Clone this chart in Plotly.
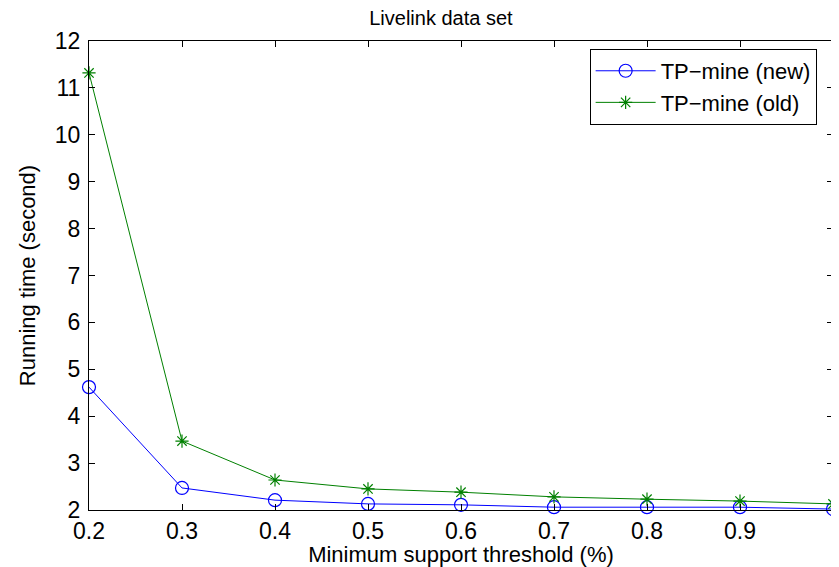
import plotly.graph_objects as go

x_vals = [0.2, 0.3, 0.4, 0.5, 0.6, 0.7, 0.8, 0.9, 1.0]
new_vals = [4.62, 2.47, 2.21, 2.13, 2.11, 2.06, 2.06, 2.06, 2.02]
old_vals = [11.32, 3.47, 2.64, 2.45, 2.38, 2.28, 2.23, 2.19, 2.13]
x_ticks = [0.2, 0.3, 0.4, 0.5, 0.6, 0.7, 0.8, 0.9, 1.0]
x_ticklabels = ["0.2", "0.3", "0.4", "0.5", "0.6", "0.7", "0.8", "0.9", "1"]
y_ticks = list(range(2, 13))

font = "Liberation Sans, Arial, sans-serif"

fig = go.Figure()
fig.add_trace(go.Scatter(
    x=x_vals, y=new_vals, mode="lines+markers", name="TP\u2212mine (new)",
    line=dict(color="#0000ff", width=1),
    marker=dict(symbol="circle-open", size=13, color="#0000ff", line=dict(width=1.2)),
    cliponaxis=False,
))
fig.add_trace(go.Scatter(
    x=x_vals, y=old_vals, mode="lines+markers", name="TP\u2212mine (old)",
    line=dict(color="#008000", width=1),
    marker=dict(symbol="asterisk-open", size=11, color="#008000", line=dict(width=1.2, color="#008000")),
    cliponaxis=False,
))

axis_common = dict(
    showgrid=False, zeroline=False, showline=True, linecolor="black", linewidth=1.2,
    mirror="ticks", ticks="inside", ticklen=6, tickcolor="black",
    tickfont=dict(family=font, size=23, color="black"),
)

fig.update_layout(
    width=831, height=559,
    margin=dict(l=81, r=6, t=33, b=57),
    paper_bgcolor="white", plot_bgcolor="white",
    title=dict(text="Livelink data set", x=0.521, xref="container", xanchor="center",
               y=1, yref="container", yanchor="top", pad=dict(t=3),
               font=dict(family=font, size=20, color="black")),
    xaxis=dict(range=[0.2, 1.0], tickvals=x_ticks, ticktext=x_ticklabels,
               title=dict(text="Minimum support threshold (%)", font=dict(family=font, size=22, color="black"), standoff=0),
               **axis_common),
    yaxis=dict(range=[2, 12], tickvals=y_ticks, ticklabelstandoff=3,
               title=dict(text="Running time (second)", font=dict(family=font, size=22, color="black"), standoff=13),
               **axis_common),
    legend=dict(x=0.978, y=0.983, xanchor="right", yanchor="top",
                bordercolor="black", borderwidth=1, bgcolor="white",
                font=dict(family=font, size=22, color="black"),
                tracegroupgap=0, itemwidth=60),
    showlegend=True,
)

fig.write_html("out.html")
